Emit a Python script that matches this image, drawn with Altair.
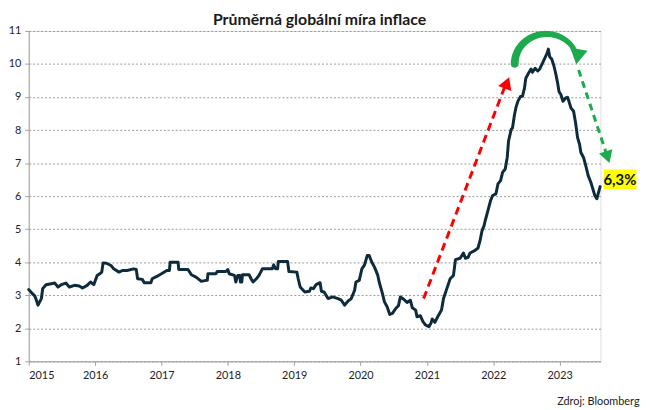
import altair as alt
import pandas as pd
import numpy as np

# ---- main series ----
years = [
    2015.00, 2015.04, 2015.07, 2015.09, 2015.11, 2015.14, 2015.17, 2015.19, 2015.21, 2015.26,
    2015.34, 2015.39, 2015.42, 2015.44, 2015.49, 2015.56, 2015.61, 2015.69, 2015.76, 2015.81,
    2015.88, 2015.93, 2015.98, 2016.03, 2016.07, 2016.10, 2016.12, 2016.17, 2016.24, 2016.28,
    2016.36, 2016.41, 2016.48, 2016.58, 2016.62, 2016.64, 2016.71, 2016.74, 2016.84, 2016.86,
    2016.93, 2017.00, 2017.08, 2017.12, 2017.13, 2017.25, 2017.26, 2017.40, 2017.45, 2017.52,
    2017.55, 2017.60, 2017.67, 2017.69, 2017.70, 2017.82, 2017.84, 2017.97, 2018.00, 2018.02,
    2018.10, 2018.12, 2018.15, 2018.18, 2018.19, 2018.21, 2018.22, 2018.32, 2018.35, 2018.38,
    2018.43, 2018.47, 2018.52, 2018.67, 2018.69, 2018.72, 2018.75, 2018.76, 2018.90, 2018.92,
    2019.04, 2019.06, 2019.09, 2019.16, 2019.23, 2019.25, 2019.29, 2019.33, 2019.39, 2019.41,
    2019.45, 2019.51, 2019.58, 2019.66, 2019.71, 2019.76, 2019.81, 2019.86, 2019.91, 2019.93,
    2019.98, 2020.02, 2020.06, 2020.10, 2020.13, 2020.17, 2020.21, 2020.26, 2020.28, 2020.33,
    2020.36, 2020.40, 2020.44, 2020.48, 2020.53, 2020.57, 2020.60, 2020.65, 2020.70, 2020.75,
    2020.78, 2020.83, 2020.85, 2020.90, 2020.94, 2020.98, 2021.03, 2021.06, 2021.08, 2021.12,
    2021.17, 2021.22, 2021.25, 2021.30, 2021.35, 2021.40, 2021.43, 2021.50, 2021.55, 2021.58,
    2021.62, 2021.65, 2021.72, 2021.77, 2021.80, 2021.83, 2021.86, 2021.88, 2021.92, 2021.96,
    2021.99, 2022.04, 2022.07, 2022.11, 2022.14, 2022.18, 2022.21, 2022.23, 2022.27, 2022.29,
    2022.32, 2022.34, 2022.37, 2022.41, 2022.44, 2022.47, 2022.49, 2022.53, 2022.57, 2022.59,
    2022.63, 2022.67, 2022.70, 2022.74, 2022.78, 2022.81, 2022.83, 2022.85, 2022.88, 2022.91,
    2022.94, 2022.97, 2022.99, 2023.02, 2023.05, 2023.09, 2023.12, 2023.14, 2023.17, 2023.21,
    2023.24, 2023.27, 2023.30, 2023.32, 2023.36, 2023.40, 2023.43, 2023.47, 2023.50, 2023.53,
    2023.56, 2023.58, 2023.61,
]
values = [
    3.17, 3.08, 3.02, 2.98, 2.88, 2.70, 2.82, 2.90, 3.20, 3.32,
    3.35, 3.37, 3.30, 3.25, 3.32, 3.37, 3.25, 3.30, 3.28, 3.22,
    3.30, 3.40, 3.32, 3.60, 3.65, 3.70, 3.98, 3.97, 3.90, 3.80,
    3.70, 3.75, 3.75, 3.80, 3.78, 3.50, 3.48, 3.38, 3.38, 3.50,
    3.57, 3.65, 3.75, 3.75, 4.00, 4.00, 3.78, 3.78, 3.62, 3.55,
    3.50, 3.42, 3.45, 3.45, 3.65, 3.65, 3.72, 3.72, 3.78, 3.65,
    3.60, 3.40, 3.60, 3.60, 3.40, 3.40, 3.62, 3.62, 3.50, 3.40,
    3.50, 3.60, 3.80, 3.80, 3.92, 3.80, 3.80, 4.02, 4.02, 3.72,
    3.70, 3.50, 3.25, 3.10, 3.12, 3.22, 3.20, 3.32, 3.38, 3.12,
    3.10, 2.90, 2.95, 2.90, 2.85, 2.70, 2.82, 2.90, 3.15, 3.40,
    3.45, 3.80, 3.92, 4.20, 4.20, 4.00, 3.85, 3.60, 3.40, 3.05,
    2.80, 2.65, 2.42, 2.45, 2.60, 2.68, 2.95, 2.88, 2.78, 2.85,
    2.62, 2.55, 2.35, 2.38, 2.20, 2.10, 2.05, 2.15, 2.28, 2.18,
    2.38, 2.55, 2.90, 3.20, 3.50, 3.60, 4.08, 4.12, 4.28, 4.12,
    4.15, 4.28, 4.35, 4.43, 4.65, 4.95, 5.10, 5.27, 5.57, 5.87,
    6.02, 6.07, 6.37, 6.47, 6.72, 6.82, 7.17, 7.67, 8.02, 8.07,
    8.47, 8.67, 8.87, 9.02, 9.02, 9.27, 9.57, 9.72, 9.85, 9.75,
    9.87, 9.79, 9.85, 10.02, 10.19, 10.32, 10.45, 10.22, 10.15, 9.97,
    9.72, 9.42, 9.17, 9.07, 8.87, 8.97, 8.99, 8.87, 8.67, 8.57,
    8.22, 7.77, 7.57, 7.32, 7.17, 6.87, 6.62, 6.42, 6.22, 6.02,
    5.92, 6.07, 6.29,
]

x_ticks = list(range(2015, 2024))
y_ticks = list(range(1, 12))

title_text = "Průměrná globální míra inflace"
source_text = "Zdroj: Bloomberg"
last_label = "6,3%"

# ---- annotation arrows (in data coordinates) ----
red_arrow_x = [2020.95, 2022.19]
red_arrow_y = [2.90, 9.40]
green_arrow_x = [2023.286, 2023.715]
green_arrow_y = [9.82, 7.22]

head_x = [2022.206, 2023.722, 2023.27]
head_y = [9.43, 7.18, 10.22]
head_angle = [21, 162, 190]
head_size = [200, 200, 320]
head_color = ["#FF0000", "#1DAA4C", "#1DAA4C"]

arc_center_x = 2022.80
arc_center_y = 10.01
arc_rx = 0.477
arc_ry = 0.90
arc_start_deg = 180
arc_end_deg = 30

FONT = "Lato"
LINE_COLOR = "#0E2B3B"

df = pd.DataFrame({"year": years, "value": values})

xscale = alt.Scale(domain=[2015, 2023.615], nice=False, zero=False)
yscale = alt.Scale(domain=[1, 11], nice=False, zero=False)

X = alt.X(
    "year:Q",
    scale=xscale,
    axis=alt.Axis(
        values=x_ticks, tickCount=len(x_ticks), format="d", title=source_text,
        titleAnchor="end", titleX=617, titleY=41, titleAlign="right",
        titleBaseline="middle", titleFont=FONT, titleFontSize=11,
        titleFontWeight="normal", titleColor="#222222",
        labelFont=FONT, labelFontSize=11, labelColor="#222222", labelPadding=4,
        labelOverlap=False,
        domainColor="#A0A0A0", tickColor="#A0A0A0", tickSize=4, grid=False,
    ),
)
Y = alt.Y(
    "value:Q",
    scale=yscale,
    axis=alt.Axis(
        values=y_ticks, tickCount=len(y_ticks), title=None, labelFont=FONT,
        labelFontSize=11, labelColor="#222222", labelPadding=4, labelOverlap=False,
        domainColor="#A0A0A0", tickColor="#A0A0A0", tickSize=4,
        grid=True, gridColor="#9A9A9A", gridDash=[2, 2], gridWidth=1,
    ),
)

base_line = alt.Chart(df).mark_line(
    color=LINE_COLOR, strokeWidth=3, strokeJoin="round", strokeCap="round"
).encode(x=X, y=Y)

red_df = pd.DataFrame({"year": red_arrow_x, "value": red_arrow_y})
red_line = alt.Chart(red_df).mark_line(
    color="#FF0000", strokeWidth=3, strokeDash=[8, 5]
).encode(x="year:Q", y="value:Q")

green_df = pd.DataFrame({"year": green_arrow_x, "value": green_arrow_y})
green_line = alt.Chart(green_df).mark_line(
    color="#1DAA4C", strokeWidth=3, strokeDash=[7, 5]
).encode(x="year:Q", y="value:Q")

ang = np.radians(np.linspace(arc_start_deg, arc_end_deg, 40))
arc_df = pd.DataFrame({
    "year": arc_center_x + arc_rx * np.cos(ang),
    "value": arc_center_y + arc_ry * np.sin(ang),
    "w": np.linspace(8, 5, 40),
    "i": np.arange(40),
})
arc = alt.Chart(arc_df).mark_trail(color="#1DAA4C").encode(
    x="year:Q", y="value:Q",
    size=alt.Size("w:Q", scale=None, legend=None),
    order="i:Q",
)

head_df = pd.DataFrame({
    "year": head_x, "value": head_y, "angle": head_angle,
    "size": head_size, "color": head_color,
})
heads = alt.Chart(head_df).mark_point(
    shape="triangle-up", filled=True, opacity=1, strokeWidth=0
).encode(
    x="year:Q", y="value:Q",
    angle=alt.Angle("angle:Q", scale=None),
    size=alt.Size("size:Q", scale=None, legend=None),
    color=alt.Color("color:N", scale=None, legend=None),
)

last_df = pd.DataFrame({"year": [years[-1]], "value": [values[-1]], "label": [last_label]})
box = alt.Chart(last_df).mark_point(
    shape="M0.37,-1.73L3.67,-1.73L3.67,0.27L0.37,0.27Z",
    filled=True, color="#FFFF00", opacity=1, strokeWidth=0, size=400,
).encode(x="year:Q", y="value:Q")
label = alt.Chart(last_df).mark_text(
    font=FONT, fontSize=15, fontWeight="bold", color="#111111",
    align="center", baseline="middle", dx=20, dy=-7,
).encode(x="year:Q", y="value:Q", text="label:N")

chart = alt.layer(
    base_line, red_line, green_line, arc, heads, box, label
).properties(
    width=578, height=334,
    title=alt.Title(
        title_text, font=FONT, fontSize=16, fontWeight="bold", color="#1A1A1A",
        anchor="middle", dx=5, dy=3, offset=0,
    ),
    autosize=alt.AutoSizeParams(type="none"),
    padding={"left": 21, "top": 21, "right": 42, "bottom": 47},
).configure_view(stroke=None).configure(background="white")

chart.save("out.html", embed_options={"renderer": "svg", "actions": False})
